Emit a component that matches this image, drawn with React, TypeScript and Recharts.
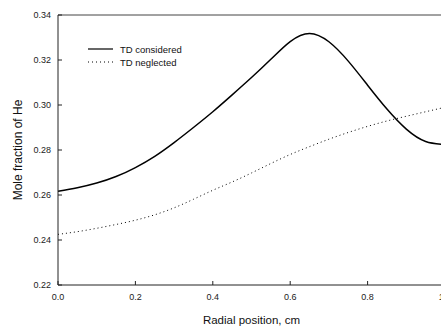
import React from 'react';
import { LineChart, Line, XAxis, YAxis, ReferenceLine } from 'recharts';

const radius = [0, 0.05, 0.1, 0.15, 0.2, 0.25, 0.3, 0.35, 0.4, 0.45, 0.5, 0.55, 0.6, 0.65, 0.7, 0.75, 0.8, 0.85, 0.9, 0.95, 1.0];
const tdConsidered = [0.2617, 0.2632, 0.2653, 0.2682, 0.2722, 0.2772, 0.2833, 0.29, 0.297, 0.3045, 0.3122, 0.3203, 0.3282, 0.3318, 0.3281, 0.3195, 0.3088, 0.2982, 0.2893, 0.2838, 0.2825];
const tdNeglected = [0.2425, 0.2437, 0.2452, 0.2469, 0.2488, 0.2512, 0.2543, 0.2581, 0.2621, 0.2658, 0.2698, 0.274, 0.278, 0.2815, 0.2848, 0.2878, 0.2905, 0.2929, 0.295, 0.297, 0.299];
const xTicks = [0, 0.2, 0.4, 0.6, 0.8, 1.0];
const yTicks = [0.22, 0.24, 0.26, 0.28, 0.3, 0.32, 0.34];
const seriesNames = ['TD considered', 'TD neglected'];

const data = radius.map((r, i) => ({ r, a: tdConsidered[i], b: tdNeglected[i] }));

const FONT = 'Liberation Sans, Arial, sans-serif';

const LegendBox = () => (
  <svg width={120} height={30} style={{ position: 'absolute', left: 88, top: 44, overflow: 'visible' }}>
    <line x1={0} y1={5} x2={25} y2={5} stroke="#000" strokeWidth={1.2} />
    <text x={32} y={8.5} fontSize={9.5} fontFamily={FONT} fill="#111">{seriesNames[0]}</text>
    <line x1={0} y1={18} x2={25} y2={18} stroke="#000" strokeWidth={1} strokeDasharray="1 3" />
    <text x={32} y={21.5} fontSize={9.5} fontFamily={FONT} fill="#111">{seriesNames[1]}</text>
  </svg>
);

export default function App() {
  return (
    <div style={{ position: 'absolute', left: 0, top: 0, width: 441, height: 326, overflow: 'hidden', background: '#fff' }}>
      <LineChart width={460} height={326} data={data} margin={{ top: 15, right: 15, bottom: 0, left: 8 }}>
        <XAxis
          dataKey="r"
          type="number"
          domain={[0, 1]}
          ticks={xTicks}
          tickFormatter={(v: number) => v.toFixed(1)}
          tickSize={-4}
          tickMargin={13}
          height={41}
          stroke="#222"
          tick={{ fontSize: 9, fontFamily: FONT, fill: '#222' }}
          label={{ value: 'Radial position, cm', position: 'insideBottom', offset: 2, style: { fontSize: 11.5, fontFamily: FONT, fill: '#111' } }}
        />
        <YAxis
          type="number"
          domain={[0.22, 0.34]}
          ticks={yTicks}
          tickFormatter={(v: number) => v.toFixed(2)}
          tickSize={-4}
          tickMargin={11}
          width={50}
          stroke="#222"
          tick={{ fontSize: 9, fontFamily: FONT, fill: '#222' }}
          label={{ value: 'Mole fraction of He', angle: -90, position: 'insideLeft', offset: 10, style: { textAnchor: 'middle', fontSize: 12, fontFamily: FONT, fill: '#111' } }}
        />
        <ReferenceLine y={0.34} stroke="#444" strokeWidth={1} ifOverflow="extendDomain" />
        <Line type="natural" dataKey="a" name={seriesNames[0]} stroke="#000" strokeWidth={1.5} dot={false} isAnimationActive={false} />
        <Line type="natural" dataKey="b" name={seriesNames[1]} stroke="#000" strokeWidth={1} strokeDasharray="1 3" dot={false} isAnimationActive={false} />
      </LineChart>
      <LegendBox />
    </div>
  );
}
